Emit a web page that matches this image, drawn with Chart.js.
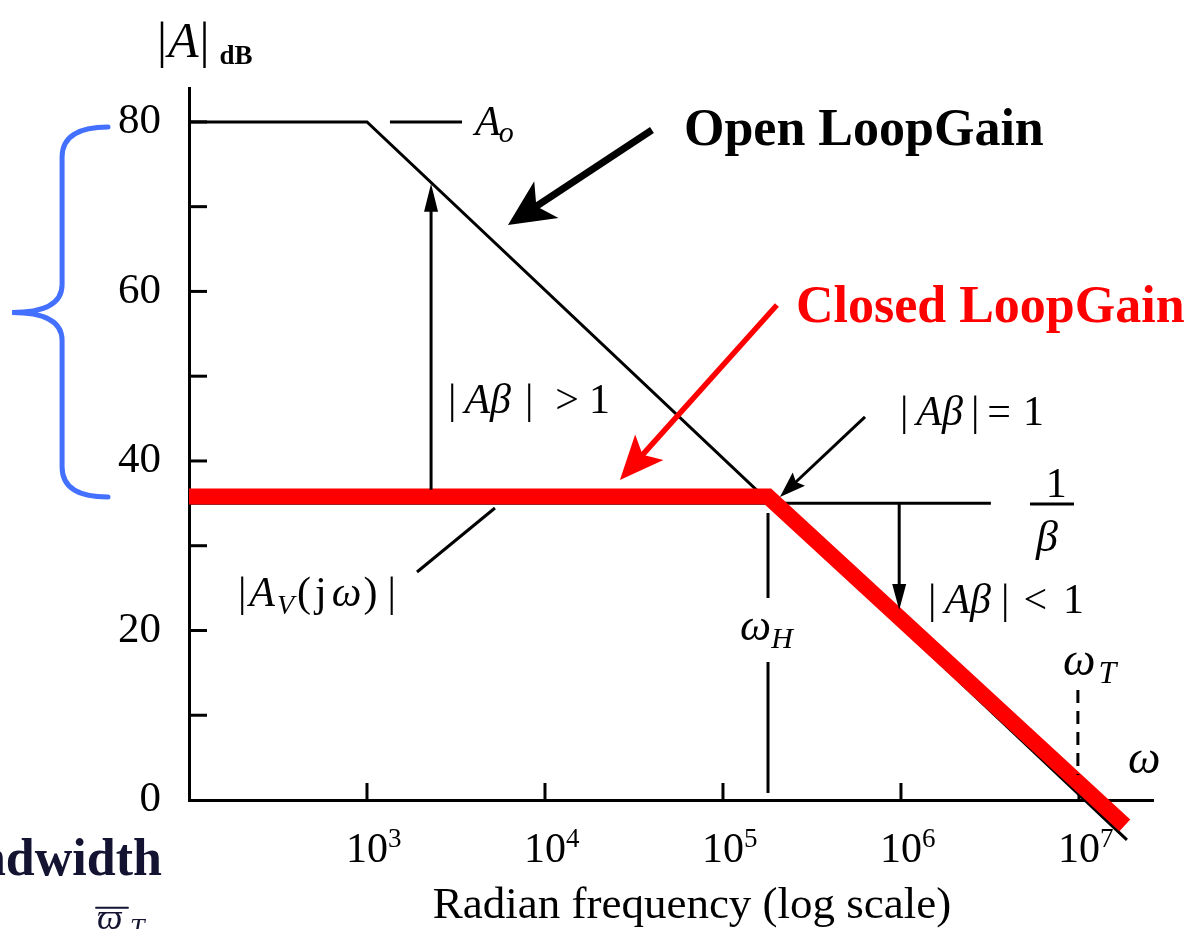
<!DOCTYPE html>
<html>
<head>
<meta charset="utf-8">
<script src="https://cdn.jsdelivr.net/npm/chart.js@4.4.1/dist/chart.umd.min.js"></script>
<style>
  html, body { margin: 0; padding: 0; background: #fff; }
  #wrap { width: 1194px; height: 929px; position: relative; }
</style>
</head>
<body>
<div id="wrap"><canvas id="bode"></canvas></div>
<script>
// open loop gain: flat at A_o, then -20 dB/decade
var openLoopFreq = [1e2, 1e3, 1.86e7];
var openLoopGain = [80, 80, -4.7];
// closed loop gain: flat at 1/beta up to w_H, then follows the open loop
var closedLoopFreq = [1e2, 1.79e5, 1.81e7];
var closedLoopGain = [35.8, 35.8, -3];
// 1/beta level
var betaFreq = [1e2, 3.2e6];
var betaGain = [35, 35];
// axes
var decadeTicks = [1e3, 1e4, 1e5, 1e6, 1e7];
var decadeExp = ['3', '4', '5', '6', '7'];
var gainTicks = [0, 10, 20, 30, 40, 50, 60, 70, 80];

var SERIF = "'Liberation Serif', 'Times New Roman', serif";

function pts(xs, ys) {
  return xs.map(function(x, i) { return { x: x, y: ys[i] }; });
}

// draws a row of text pieces with different fonts, left to right
function runs(ctx, x, y, parts, size, color) {
  ctx.fillStyle = color || '#000';
  ctx.textAlign = 'left';
  ctx.textBaseline = 'alphabetic';
  parts.forEach(function(p) {
    x += p.gap || 0;
    ctx.font = (p.it ? 'italic ' : '') + (p.bold ? 'bold ' : '') + (p.size || size) + 'px ' + SERIF;
    ctx.fillText(p.t, x, y + (p.dy || 0));
    x += ctx.measureText(p.t).width;
  });
}

function arrow(ctx, x1, y1, x2, y2, lw, len, half, color, notch) {
  var a = Math.atan2(y2 - y1, x2 - x1);
  var c = Math.cos(a), s = Math.sin(a);
  var bx = x2 - len * c, by = y2 - len * s;
  var n = notch || 0;
  ctx.strokeStyle = color;
  ctx.fillStyle = color;
  ctx.lineWidth = lw;
  ctx.lineCap = 'butt';
  ctx.beginPath();
  ctx.moveTo(x1, y1);
  ctx.lineTo(x2 - (len * 0.7) * c, y2 - (len * 0.7) * s);
  ctx.stroke();
  ctx.beginPath();
  ctx.moveTo(x2, y2);
  ctx.lineTo(bx - half * s, by + half * c);
  ctx.lineTo(bx + n * c, by + n * s);
  ctx.lineTo(bx + half * s, by - half * c);
  ctx.closePath();
  ctx.fill();
}

function line(ctx, x1, y1, x2, y2, lw, dash) {
  ctx.strokeStyle = '#000';
  ctx.lineWidth = lw;
  ctx.setLineDash(dash || []);
  ctx.beginPath();
  ctx.moveTo(x1, y1);
  ctx.lineTo(x2, y2);
  ctx.stroke();
  ctx.setLineDash([]);
}

// inward tick marks on both axes
var innerTicks = {
  id: 'innerTicks',
  beforeDatasetsDraw: function(chart) {
    var ctx = chart.ctx, xs = chart.scales.x, ys = chart.scales.y, area = chart.chartArea;
    ctx.save();
    ys.ticks.forEach(function(t) {
      if (t.value === 0) return;
      var p = ys.getPixelForValue(t.value);
      line(ctx, area.left, p, area.left + 18, p, 3);
    });
    xs.ticks.forEach(function(t) {
      var p = xs.getPixelForValue(t.value);
      line(ctx, p, area.bottom, p, area.bottom - 17, 3);
    });
    // decade labels 10^n
    xs.ticks.forEach(function(t, i) {
      var p = xs.getPixelForValue(t.value);
      ctx.font = '42px ' + SERIF;
      var w = ctx.measureText('10').width;
      runs(ctx, p - w / 2, area.bottom + 62, [
        { t: '10' },
        { t: decadeExp[i], size: 27, dy: -15 }
      ], 42);
    });
    ctx.restore();
  }
};

// text, arrows and markers over the plot
var notes = {
  id: 'notes',
  afterDatasetsDraw: function(chart) {
    var ctx = chart.ctx, xs = chart.scales.x, ys = chart.scales.y;
    function X(lg) { return xs.getPixelForValue(Math.pow(10, lg)); }
    function Y(db) { return ys.getPixelForValue(db); }
    ctx.save();

    // y axis name
    runs(ctx, X(1.82), Y(87.66), [
      { t: '|' }, { t: 'A', it: true, gap: 1 }, { t: '|', gap: 1 },
      { t: 'dB', bold: true, size: 27, dy: 7, gap: 10 }
    ], 50);

    // A_o marker
    line(ctx, X(3.129), Y(80), X(3.534), Y(80), 3);
    runs(ctx, X(3.607), Y(78.46), [
      { t: 'A', it: true }, { t: 'o', it: true, size: 30, dy: 7, gap: -2 }
    ], 42);

    // curve names
    runs(ctx, X(4.781), Y(77.28), [{ t: 'Open LoopGain', bold: true }], 52, '#000');
    runs(ctx, X(5.41), Y(56.4), [{ t: 'Closed LoopGain', bold: true }], 52, '#ff0000');
    arrow(ctx, X(4.601), Y(79.05), X(3.792), Y(67.84), 7, 46, 22, '#000', 12);
    arrow(ctx, X(5.303), Y(58.4), X(4.421), Y(37.75), 5.5, 44, 19, '#ff0000', 10);

    // loop gain > 1 region
    arrow(ctx, X(3.36), Y(36.6), X(3.36), Y(72.7), 3, 28, 7, '#000');
    runs(ctx, X(3.455), Y(45.66), [
      { t: '|' }, { t: 'A\u03b2', it: true, gap: 8 }, { t: '|', gap: 14 },
      { t: '>', gap: 22 }, { t: '1', gap: 10 }
    ], 42);

    // loop gain = 1
    runs(ctx, X(5.994), Y(44.24), [
      { t: '|' }, { t: 'A\u03b2', it: true, gap: 8 }, { t: '|', gap: 8 },
      { t: '=', gap: 8 }, { t: '1', gap: 12 }
    ], 42);
    arrow(ctx, X(5.798), Y(45.19), X(5.32), Y(35.75), 3, 26, 9, '#000', 4);

    // 1/beta
    line(ctx, X(6.725), Y(34.92), X(6.972), Y(34.92), 3);
    ctx.textAlign = 'center';
    ctx.fillStyle = '#000';
    ctx.font = '42px ' + SERIF;
    ctx.fillText('1', X(6.873), Y(35.75));
    ctx.font = 'italic 44px ' + SERIF;
    ctx.fillText('\u03b2', X(6.82), Y(29.38));

    // closed loop label with leader
    line(ctx, X(3.281), Y(26.9), X(3.719), Y(34.45), 3);
    runs(ctx, X(2.275), Y(22.89), [
      { t: '|' }, { t: 'A', it: true, gap: 3 }, { t: 'V', it: true, size: 28, dy: 8, gap: 2 },
      { t: '(', gap: 3 }, { t: 'j', gap: 4 }, { t: '\u03c9', it: true, gap: 5 },
      { t: ')', gap: 2 }, { t: '|', gap: 10 }
    ], 42);

    // w_H marker
    line(ctx, X(5.253), Y(33.86), X(5.253), Y(23.83), 3);
    line(ctx, X(5.253), Y(16.28), X(5.253), Y(0.83), 3);
    runs(ctx, X(5.096), Y(18.88), [
      { t: '\u03c9', it: true }, { t: 'H', it: true, size: 30, dy: 8 }
    ], 44);

    // loop gain < 1 region
    arrow(ctx, X(5.99), Y(35), X(5.99), Y(22.42), 3, 26, 7, '#000');
    runs(ctx, X(6.152), Y(22.06), [
      { t: '|' }, { t: 'A\u03b2', it: true, gap: 8 }, { t: '|', gap: 10 },
      { t: '<', gap: 14 }, { t: '1', gap: 16 }
    ], 42);

    // w_T marker
    line(ctx, X(6.994), Y(12.98), X(6.994), Y(2.95), 3, [13, 8]);
    runs(ctx, X(6.91), Y(14.75), [
      { t: '\u03c9', it: true }, { t: 'T', it: true, size: 32, dy: 8, gap: 3 }
    ], 46);
    runs(ctx, X(7.275), Y(3.19), [{ t: '\u03c9', it: true }], 46);

    // x axis name
    ctx.textAlign = 'center';
    ctx.fillStyle = '#000';
    ctx.font = '45px ' + SERIF;
    ctx.fillText('Radian frequency (log scale)', X(4.826), Y(-13.92));

    // bracket spanning A_o down to 1/beta
    var bx = X(1.287), ex = X(1.545), cx = X(1.006);
    var t0 = Y(79.4), t1 = Y(35.75), mid = Y(57.5);
    ctx.strokeStyle = '#4470ff';
    ctx.lineWidth = 5;
    ctx.lineCap = 'round';
    ctx.beginPath();
    ctx.moveTo(ex, t0);
    ctx.quadraticCurveTo(bx, t0, bx, t0 + 30);
    ctx.lineTo(bx, mid - 28);
    ctx.quadraticCurveTo(bx, mid, cx, mid);
    ctx.quadraticCurveTo(bx, mid, bx, mid + 28);
    ctx.lineTo(bx, t1 - 30);
    ctx.quadraticCurveTo(bx, t1, ex, t1);
    ctx.stroke();

    // neighbouring slide text at the edge
    ctx.textAlign = 'right';
    ctx.fillStyle = '#141432';
    ctx.font = 'bold 52px ' + SERIF;
    ctx.fillText('Bandwidth', X(1.848), Y(-8.85));
    ctx.textAlign = 'left';
    ctx.font = 'italic 36px ' + SERIF;
    ctx.fillText('\u03d6', X(1.483), Y(-15.2));
    ctx.strokeStyle = '#141432';
    ctx.lineWidth = 2;
    ctx.beginPath();
    ctx.moveTo(X(1.478), Y(-12.7));
    ctx.lineTo(X(1.657), Y(-12.7));
    ctx.stroke();
    ctx.font = 'italic 26px ' + SERIF;
    ctx.fillText('T', X(1.669), Y(-16));

    ctx.restore();
  }
};

var ctx = document.getElementById('bode').getContext('2d');
new Chart(ctx, {
  type: 'line',
  data: {
    datasets: [
      {
        label: 'Closed loop',
        data: pts(closedLoopFreq, closedLoopGain),
        borderColor: '#ff0000',
        borderWidth: 16,
        borderJoinStyle: 'miter',
        order: 0
      },
      {
        label: 'Open loop',
        data: pts(openLoopFreq, openLoopGain),
        borderColor: '#000',
        borderWidth: 3,
        order: 1
      },
      {
        label: '1/beta',
        data: pts(betaFreq, betaGain),
        borderColor: '#000',
        borderWidth: 3,
        order: 2
      }
    ]
  },
  options: {
    responsive: true,
    maintainAspectRatio: false,
    animation: false,
    events: [],
    elements: {
      point: { radius: 0 },
      line: { tension: 0, fill: false, borderCapStyle: 'butt' }
    },
    datasets: { line: { clip: false } },
    layout: { padding: { top: 88, right: 41, left: 0, bottom: 0 } },
    plugins: {
      legend: { display: false },
      tooltip: { enabled: false }
    },
    scales: {
      x: {
        type: 'logarithmic',
        min: 100,
        max: 2.606e7,
        grid: { display: false },
        border: { display: true, color: '#000', width: 3 },
        ticks: { display: false },
        afterBuildTicks: function(scale) {
          scale.ticks = decadeTicks.map(function(v) { return { value: v }; });
        },
        afterFit: function(scale) { scale.height = 129; }
      },
      y: {
        min: 0,
        max: 84,
        grid: { display: false },
        border: { display: true, color: '#000', width: 3 },
        ticks: {
          color: '#000',
          font: { family: SERIF, size: 43 },
          padding: 20,
          callback: function(v) { return v % 20 === 0 ? String(v) : ''; }
        },
        afterBuildTicks: function(scale) {
          scale.ticks = gainTicks.map(function(v) { return { value: v }; });
        },
        afterFit: function(scale) { scale.width = 189; }
      }
    }
  },
  plugins: [innerTicks, notes]
});
</script>
</body>
</html>
